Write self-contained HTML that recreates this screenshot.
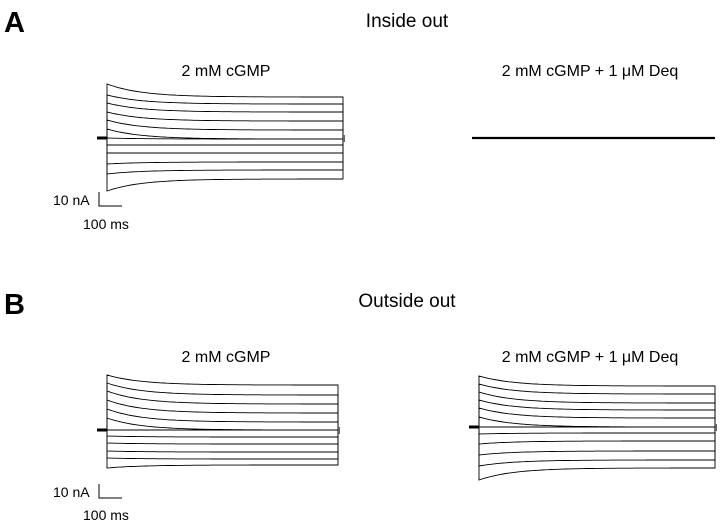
<!DOCTYPE html>
<html><head><style>
body{margin:0;width:720px;height:521px;background:#fff;overflow:hidden;font-family:"Liberation Sans",sans-serif}
svg{position:absolute;left:0;top:0}
</style></head><body>
<svg id="s" width="720" height="521" viewBox="0 0 720 521">
<g font-family="Liberation Sans, sans-serif" fill="#000">
<text x="4" y="32" font-size="29" font-weight="bold">A</text>
<text x="407" y="27" font-size="19" text-anchor="middle">Inside out</text>
<text x="226" y="76" font-size="16" text-anchor="middle">2 mM cGMP</text>
<text x="590" y="76" font-size="16" text-anchor="middle">2 mM cGMP + 1 μM Deq</text>
<text x="53" y="205" font-size="14">10 nA</text>
<text x="83" y="229" font-size="14">100 ms</text>
<text x="4" y="314" font-size="29" font-weight="bold">B</text>
<text x="407" y="307" font-size="19" text-anchor="middle">Outside out</text>
<text x="226" y="362" font-size="16" text-anchor="middle">2 mM cGMP</text>
<text x="590" y="362" font-size="16" text-anchor="middle">2 mM cGMP + 1 μM Deq</text>
<text x="53" y="497" font-size="14">10 nA</text>
<text x="83" y="520" font-size="14">100 ms</text>
</g>
<g stroke="#000" fill="none" stroke-width="1">
<path d="M99 192V206H122"/>
<path d="M99 484V498H122"/>
<path d="M472 138H715" stroke-width="2.2"/>
</g>
<g id="t" stroke="#000" fill="none" stroke-width="0.9"></g>
</svg>
<script>
var g=document.getElementById('t');
function panel(x0,x1,base,starts,ends){
 var h='';
 for(var i=0;i<starts.length;i++){
  var s=starts[i],e=ends[i],d='M'+x0+' '+base+'L'+x0+' '+s;
  for(var x=x0;x<=x1;x+=3){var y=e+(s-e)*Math.exp(-(x-x0)/35);d+='L'+x+' '+y.toFixed(1);}
  d+='L'+x1+' '+e+'L'+x1+' '+base;
  h+='<path d="'+d+'"/>';
 }
 h+='<path d="M'+(x0-10)+' '+base+'H'+x0+'" stroke-width="3"/>';
 h+='<path d="M'+(x1+1)+' '+(base-3)+'v7" stroke-width="2" stroke="#666"/>';
 return h;
}
var html='';
html+=panel(107,343,138,[84,95,103,112,120,129,138,145,153,164,174,191],[97,104,112,121,130,139,139,145,153,162,170,179]);
html+=panel(107,338,430,[375,383,391,400,409,418,430,436,443,451,458,468],[385,395,404,413,422,430,430,437,444,452,459,465]);
html+=panel(479,715,427,[376,384,392,400,408,417,427,434,444,455,466,480],[386,394,403,410,418,427,427,433,441,451,460,468]);
g.innerHTML=html;
</script>
</body></html>
